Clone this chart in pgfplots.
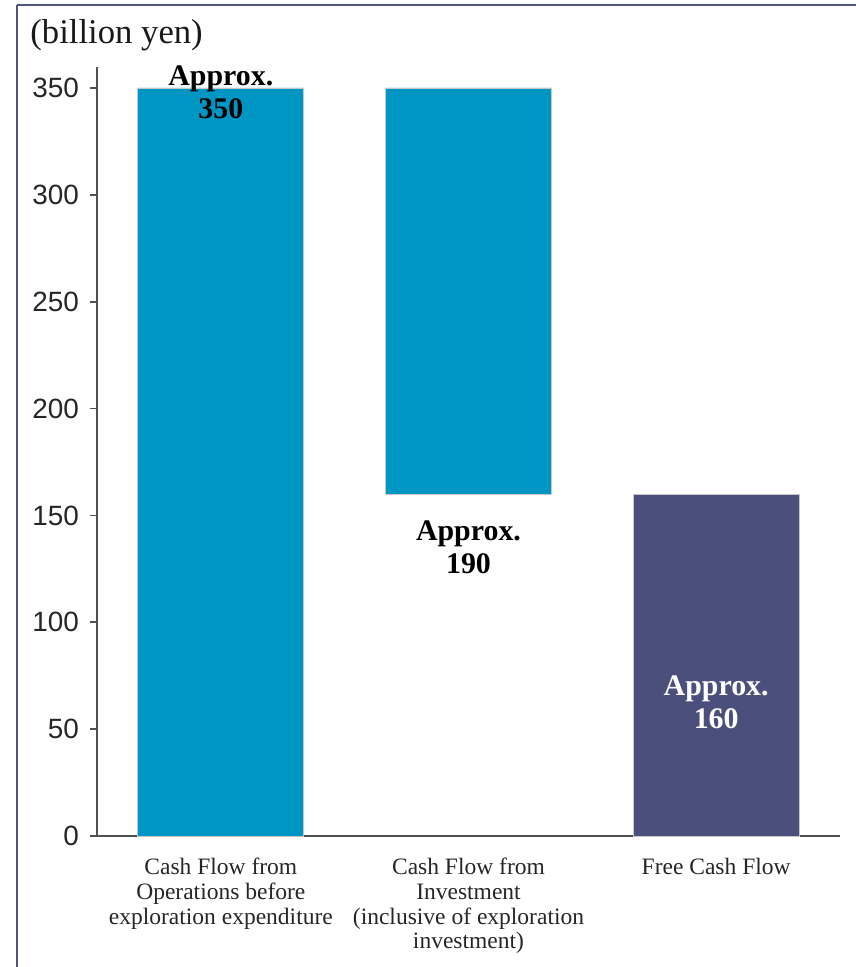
\documentclass[border=0pt]{standalone}
\usepackage{fontspec}
\setmainfont{Liberation Serif}
\newfontfamily\ticksans{Liberation Sans}
\usepackage{pgfplots}
\pgfplotsset{compat=1.18}

\definecolor{cfteal}{RGB}{0,150,196}
\definecolor{cfnavy}{RGB}{75,79,124}
\definecolor{framecol}{RGB}{80,84,130}
\definecolor{axisgray}{RGB}{80,80,80}

\begin{document}
\begin{tikzpicture}
% page frame
\path[use as bounding box] (0,0) rectangle (428bp,-483.5bp);
\draw[framecol, line width=1.2bp] (8.5bp,-2.5bp) -- (428bp,-2.5bp);
\draw[framecol, line width=0.6bp] (8.5bp,-2.5bp) -- (8.5bp,-483.5bp);
\node[anchor=base west, inner sep=0, font=\fontsize{17.4}{19}\selectfont, text=black!90]
  at (15bp,-21.5bp) {(billion yen)};

\begin{axis}[
  at={(48.5bp,-418bp)}, anchor=south west,
  scale only axis, width=371.5bp, height=384.7bp,
  xmin=-0.5, xmax=2.5, ymin=0, ymax=360,
  ybar stacked, bar width=0.67,
  axis x line*=bottom, axis y line*=left,
  axis line style={axisgray, line width=1bp},
  ytick={0,50,...,350},
  xtick={0,1,2},
  xticklabels={{Cash Flow from\\Operations before\\exploration expenditure},
               {Cash Flow from\\Investment\\(inclusive of exploration\\investment)},
               {Free Cash Flow}},
  x tick style={draw=none},
  y tick style={axisgray, line width=0.8bp},
  tick align=outside, major tick length=3.5bp,
  /pgf/number format/assume math mode=true,
  yticklabel style={font=\ticksans\fontsize{14}{14}\selectfont, text=black!85, xshift=-2bp},
  xticklabel style={font=\fontsize{11.8}{12.4}\selectfont, align=center,
                    anchor=north, yshift=-4bp, text=black!85},
  clip=false,
]
% invisible base that lifts the investment bar
\addplot[fill=none, draw=none] coordinates {(0,0) (1,160) (2,0)};
% free cash flow
\addplot[fill=cfnavy, draw=black!22, line width=0.4bp] coordinates {(0,0) (1,0) (2,160)};
% operating and investment cash flows
\addplot[fill=cfteal, draw=black!22, line width=0.4bp] coordinates {(0,350) (1,190) (2,0)};

\coordinate (l1) at (axis cs:0,348);
\coordinate (l2) at (axis cs:1,135);
\coordinate (l3) at (axis cs:2,62.5);
\end{axis}
% value labels, drawn above the bars
\node[align=center, font=\bfseries\fontsize{15}{16.8}\selectfont] at (l1) {Approx.\\350};
\node[align=center, font=\bfseries\fontsize{15}{16.8}\selectfont] at (l2) {Approx.\\190};
\node[align=center, font=\bfseries\fontsize{15}{16.8}\selectfont, text=white] at (l3) {Approx.\\160};
\end{tikzpicture}
\end{document}
